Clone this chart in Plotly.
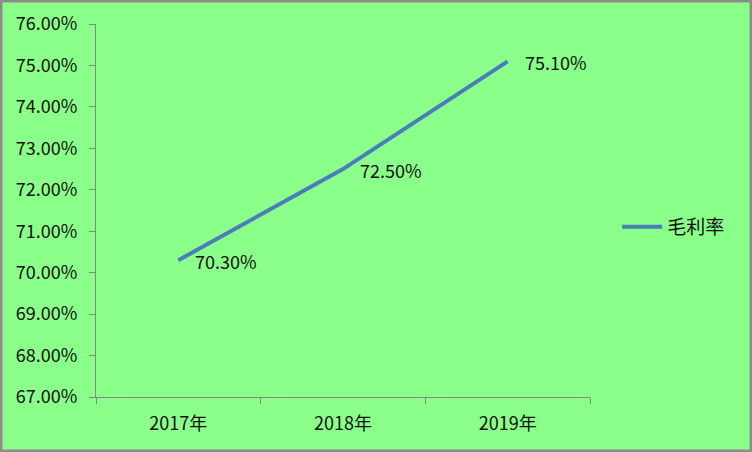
import plotly.graph_objects as go

categories = ["2017年", "2018年", "2019年"]
values = [70.30, 72.50, 75.10]
series_name = "毛利率"
y_ticks = [67, 68, 69, 70, 71, 72, 73, 74, 75, 76]

W, H = 752, 452
L, R, T, B = 96, 162, 24, 55
pw, ph = W - L - R, H - T - B

font = "Noto Sans CJK SC, DejaVu Sans, sans-serif"
bg = "#8AFF8A"
line_color = "#4A7EBB"
axis_color = "#868686"

xs = list(range(len(categories)))

fig = go.Figure()
fig.add_trace(go.Scatter(
    x=xs, y=values, mode="lines", name=series_name,
    line=dict(color=line_color, width=4),
))

for x, v in zip(xs, values):
    fig.add_annotation(x=x, y=v, text=f"{v:.2f}%", showarrow=False,
                       xanchor="left", yanchor="middle", xshift=15, yshift=-1,
                       font=dict(family=font, size=18, color="#111"))

fig.update_layout(
    width=W, height=H,
    margin=dict(l=L, r=R, t=T, b=B, autoexpand=False),
    paper_bgcolor=bg, plot_bgcolor=bg,
    font=dict(family=font, size=18, color="#111"),
    showlegend=True,
    legend=dict(x=1.055, y=0.456, xanchor="left", yanchor="middle",
                bgcolor="rgba(0,0,0,0)", font=dict(size=19),
                itemwidth=40),
    xaxis=dict(
        range=[-0.5, 2.5], tickvals=xs, ticktext=categories,
        ticks="", showgrid=False, zeroline=False,
        showline=True, linecolor=axis_color, linewidth=1,
        minor=dict(tickvals=[-0.5, 0.5, 1.5, 2.5], ticks="outside",
                   ticklen=6, tickcolor=axis_color, showgrid=False),
        tickfont=dict(size=18), ticklabelstandoff=10,
    ),
    yaxis=dict(
        range=[67, 76], tickvals=y_ticks,
        ticktext=[f"{t:.2f}%" for t in y_ticks],
        ticks="outside", ticklen=6, tickcolor=axis_color,
        showgrid=False, zeroline=False,
        showline=True, linecolor=axis_color, linewidth=1,
        tickfont=dict(size=18), ticklabelstandoff=8,
    ),
    shapes=[dict(type="rect", xref="paper", yref="paper",
                 x0=(1 - L) / pw, x1=(W - 1 - L) / pw,
                 y0=-(B - 1) / ph, y1=(ph + T - 1) / ph,
                 line=dict(color="#8C8C8C", width=3))],
)

fig.write_html("out.html", config={"displayModeBar": False},
               post_script="document.body.style.margin='0';")
